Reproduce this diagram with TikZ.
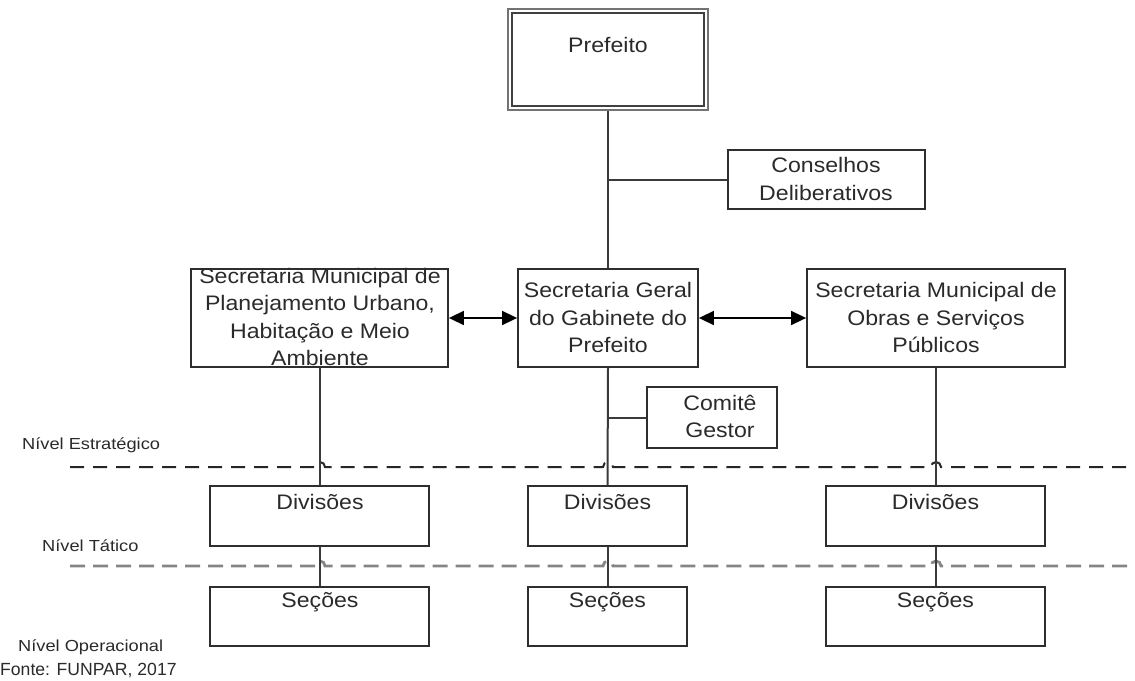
\documentclass[tikz,border=0pt]{standalone}
\usepackage{fontspec}
\setmainfont{Liberation Sans}[FakeStretch=1.1]
\newfontfamily\lvlfont{Liberation Sans}[FakeStretch=1.14]
\newfontfamily\srcfont{Liberation Sans}
\usetikzlibrary{arrows.meta}
\definecolor{boxline}{HTML}{2E2E2E}
\definecolor{wire}{HTML}{3A3A3A}
\definecolor{ink}{HTML}{2A2A2A}
\definecolor{lvlgray}{HTML}{858585}
\begin{document}
\begin{tikzpicture}[x=1pt,y=-1pt,
  orgbox/.style={draw=boxline,line width=1.8pt,fill=none,rectangle,inner sep=0pt},
  txt/.style={text=ink,align=center,inner sep=0pt,font=\fontsize{21}{27.5}\selectfont},
  lvl/.style={text=ink,anchor=west,inner sep=0pt,font=\lvlfont\fontsize{16}{18}\selectfont},
  wireline/.style={draw=wire,line width=2pt},
  both/.style={draw=black,line width=1.6pt,{Triangle[length=15pt,width=14pt]}-{Triangle[length=15pt,width=14pt]}},
  lvlA/.style={draw=black!85,line width=2pt,dash pattern=on 14pt off 9pt},
  lvlB/.style={draw=lvlgray,line width=2.8pt,dash pattern=on 15pt off 8pt}]
\useasboundingbox (0,0) rectangle (1135,680);

% Prefeito (double frame)
\node[draw=black!55,line width=2pt,minimum width=200pt,minimum height=101pt,inner sep=0pt] (pref) at (608,59.5) {};
\node[draw=black!75,line width=1.2pt,minimum width=192pt,minimum height=93pt,inner sep=0pt] (prefin) at (608,59.5) {};
\node[txt] (preft) at (608,45) {Prefeito};

% Conselhos
\node[orgbox,minimum width=197pt,minimum height=59pt] (cons) at (826.5,179.5) {};
\node[txt] (const) at (826,179) {Conselhos\\Deliberativos};

% Secretarias
\node[orgbox,minimum width=257pt,minimum height=98pt] (secL) at (319.5,318) {};
\node[txt] (secLt) at (320,317) {Secretaria Municipal de\\Planejamento Urbano,\\Habitação e Meio\\Ambiente};
\node[orgbox,minimum width=180pt,minimum height=98pt] (secC) at (608,318) {};
\node[txt] (secCt) at (608,317.5) {Secretaria Geral\\do Gabinete do\\Prefeito};
\node[orgbox,minimum width=258pt,minimum height=98pt] (secR) at (936,318) {};
\node[txt] (secRt) at (936,317.5) {Secretaria Municipal de\\Obras e Serviços\\Públicos};

% Comitê
\node[orgbox,minimum width=130pt,minimum height=61pt] (com) at (712,417.5) {};
\node[txt] (comt) at (720,416.5) {Comitê\\Gestor};

% Divisões
\node[orgbox,minimum width=219pt,minimum height=60pt] (divL) at (319.5,516) {};
\node[orgbox,minimum width=159pt,minimum height=60pt] (divC) at (607.5,516) {};
\node[orgbox,minimum width=219pt,minimum height=60pt] (divR) at (935.5,516) {};
\node[txt] (divLt) at (320,502) {Divisões};
\node[txt] (divCt) at (607.5,502) {Divisões};
\node[txt] (divRt) at (935.5,502) {Divisões};

% Seções
\node[orgbox,minimum width=219pt,minimum height=59pt] (secoL) at (319.5,616.5) {};
\node[orgbox,minimum width=159pt,minimum height=59pt] (secoC) at (607.5,616.5) {};
\node[orgbox,minimum width=219pt,minimum height=59pt] (secoR) at (935.5,616.5) {};
\node[txt] (secoLt) at (320,602) {Seções};
\node[txt] (secoCt) at (607.5,602) {Seções};
\node[txt] (secoRt) at (935.5,602) {Seções};

% level boundaries with hops over the vertical connectors
\coordinate (aS) at (70,467);   \coordinate (aE) at (1135,467);
\coordinate (bS) at (70,566);   \coordinate (bE) at (1135,566);
\draw[lvlA] (aS) -- (315,467) arc[start angle=180,end angle=0,radius=5pt]
  -- (603,467) arc[start angle=180,end angle=0,radius=5pt]
  -- (931,467) arc[start angle=180,end angle=0,radius=5pt] -- (aE);
\draw[lvlB] (bS) -- (315,566) arc[start angle=180,end angle=0,radius=5pt]
  -- (603,566) arc[start angle=180,end angle=0,radius=5pt]
  -- (931,566) arc[start angle=180,end angle=0,radius=5pt] -- (bE);

% connectors
\draw[wireline] (pref.south) -- (secC.north);
\coordinate (jc) at (608,179.5);
\draw[wireline] (jc) -- (cons.west);
\draw[wireline] (secC.south) -- (divC.north);
\coordinate (jm) at (608,417.5);
\draw[wireline] (jm) -- (com.west);
\draw[wireline] (secL.south -| divL.north) -- (divL.north);
\draw[wireline] (secR.south -| divR.north) -- (divR.north);
\draw[wireline] (divL.south) -- (secoL.north);
\draw[wireline] (divC.south) -- (secoC.north);
\draw[wireline] (divR.south) -- (secoR.north);
\draw[both] (secL.east) -- (secC.west);
\draw[both] (secC.east) -- (secR.west);

% level labels and source
\node[lvl] (nE) at (22,445) {Nível Estratégico};
\node[lvl] (nT) at (42,546) {Nível Tático};
\node[lvl] (nO) at (18,647) {Nível Operacional};
\node[text=ink,anchor=base west,inner sep=0pt,font=\srcfont\fontsize{17.6}{20}\selectfont] (src) at (0,675) {Fonte: FUNPAR, 2017};
\end{tikzpicture}
\end{document}
